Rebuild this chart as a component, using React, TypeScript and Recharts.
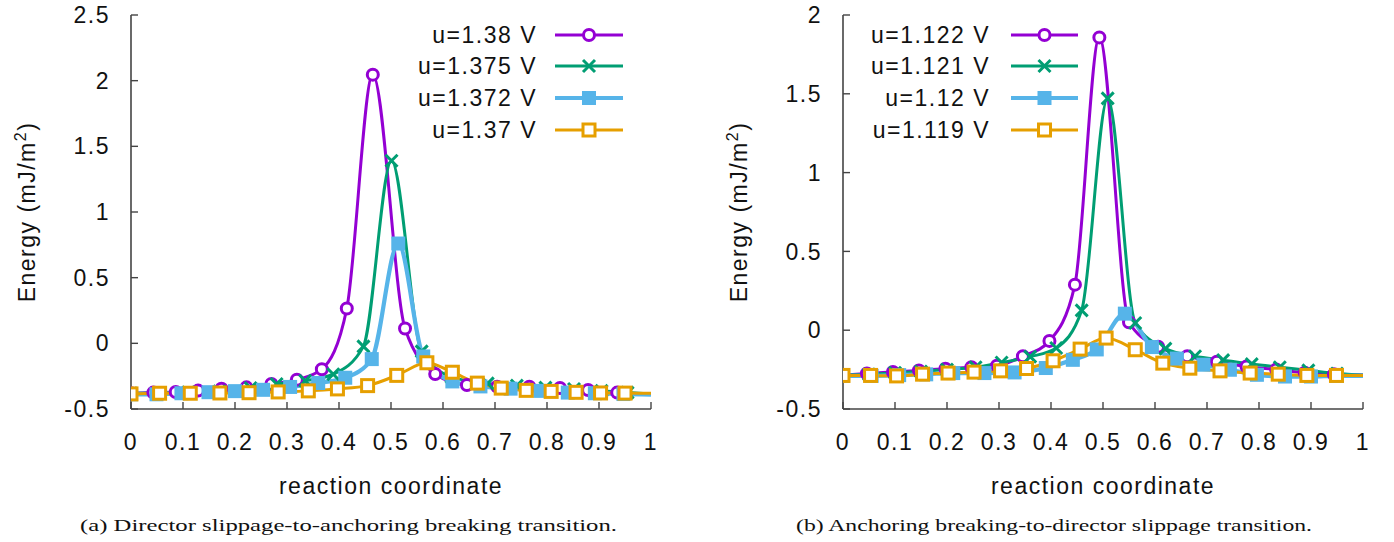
import React from "react";
import { LineChart, Line, XAxis, YAxis } from "recharts";

// ---- data ----
const xTicks = [0, 0.1, 0.2, 0.3, 0.4, 0.5, 0.6, 0.7, 0.8, 0.9, 1];
const leftYTicks = [-0.5, 0, 0.5, 1, 1.5, 2, 2.5];
const rightYTicks = [-0.5, 0, 0.5, 1, 1.5, 2];

// (a) director slippage -> anchoring breaking
const a138X = [0, 0.043, 0.086, 0.129, 0.174, 0.222, 0.27, 0.319, 0.367, 0.415, 0.465, 0.527, 0.585, 0.646, 0.704, 0.766, 0.825, 0.879, 0.935, 1.0];
const a138Y = [-0.38, -0.375, -0.37, -0.36, -0.345, -0.335, -0.31, -0.277, -0.197, 0.265, 2.046, 0.113, -0.233, -0.318, -0.33, -0.33, -0.34, -0.355, -0.375, -0.39];
const a1375X = [0, 0.055, 0.11, 0.17, 0.23, 0.28, 0.335, 0.389, 0.447, 0.501, 0.559, 0.616, 0.686, 0.742, 0.797, 0.852, 0.905, 0.955, 1.0];
const a1375Y = [-0.38, -0.378, -0.372, -0.365, -0.34, -0.31, -0.285, -0.235, -0.023, 1.39, -0.061, -0.255, -0.305, -0.322, -0.337, -0.348, -0.362, -0.375, -0.385];
const a1372X = [0, 0.049, 0.097, 0.149, 0.2, 0.254, 0.306, 0.36, 0.412, 0.463, 0.514, 0.562, 0.618, 0.672, 0.73, 0.787, 0.84, 0.892, 0.947, 1.0];
const a1372Y = [-0.388, -0.388, -0.38, -0.372, -0.364, -0.354, -0.332, -0.302, -0.262, -0.12, 0.76, -0.1, -0.29, -0.328, -0.345, -0.362, -0.375, -0.38, -0.386, -0.39];
const a137X = [0, 0.055, 0.114, 0.171, 0.227, 0.283, 0.341, 0.397, 0.455, 0.511, 0.569, 0.618, 0.666, 0.712, 0.76, 0.808, 0.856, 0.903, 0.95, 1.0];
const a137Y = [-0.385, -0.38, -0.38, -0.378, -0.376, -0.37, -0.362, -0.347, -0.322, -0.244, -0.148, -0.22, -0.303, -0.341, -0.358, -0.366, -0.373, -0.378, -0.379, -0.38];

// (b) anchoring breaking -> director slippage
const b1122X = [0, 0.046, 0.096, 0.146, 0.197, 0.247, 0.296, 0.346, 0.397, 0.446, 0.493, 0.55, 0.606, 0.662, 0.719, 0.776, 0.833, 0.888, 0.944, 1.0];
const b1122Y = [-0.285, -0.275, -0.265, -0.255, -0.245, -0.235, -0.225, -0.165, -0.068, 0.289, 1.858, 0.05, -0.105, -0.165, -0.2, -0.23, -0.25, -0.27, -0.28, -0.285];
const b1121X = [0, 0.05, 0.1, 0.15, 0.2, 0.255, 0.305, 0.36, 0.41, 0.459, 0.509, 0.562, 0.62, 0.677, 0.731, 0.786, 0.84, 0.895, 0.95, 1.0];
const b1121Y = [-0.285, -0.28, -0.27, -0.262, -0.25, -0.235, -0.205, -0.168, -0.113, 0.126, 1.471, 0.046, -0.117, -0.165, -0.19, -0.215, -0.235, -0.255, -0.275, -0.285];
const b112X = [0, 0.055, 0.108, 0.16, 0.212, 0.272, 0.33, 0.39, 0.442, 0.488, 0.542, 0.594, 0.642, 0.693, 0.744, 0.796, 0.85, 0.9, 0.95, 1.0];
const b112Y = [-0.29, -0.29, -0.285, -0.28, -0.272, -0.272, -0.268, -0.24, -0.188, -0.122, 0.105, -0.107, -0.18, -0.219, -0.251, -0.283, -0.294, -0.294, -0.29, -0.29];
const b1119X = [0, 0.053, 0.103, 0.153, 0.202, 0.252, 0.303, 0.353, 0.404, 0.456, 0.506, 0.562, 0.615, 0.667, 0.725, 0.783, 0.837, 0.892, 0.949, 1.0];
const b1119Y = [-0.287, -0.287, -0.29, -0.279, -0.272, -0.266, -0.258, -0.243, -0.194, -0.12, -0.05, -0.124, -0.209, -0.241, -0.258, -0.272, -0.279, -0.287, -0.287, -0.287];

const leftLabels = ["u=1.38 V", "u=1.375 V", "u=1.372 V", "u=1.37 V"];
const rightLabels = ["u=1.122 V", "u=1.121 V", "u=1.12 V", "u=1.119 V"];

// ---- style ----
const COLORS = ["#9400d3", "#009e73", "#56b4e9", "#e69f00"];
const KINDS = ["circle", "cross", "fsquare", "osquare"];
const WIDTHS = [3, 3, 4.2, 3];
const FONT = "'Liberation Sans', Arial, sans-serif";
const FS = 23;
const LS = 1.5;
const TXT = "#111";
const FRAME = "#444";

const W = 680;
const H = 542;
const CH = 470;
const P = { left: 131, right: 651, top: 15, bottom: 409 };
const TICK_LEN = 7;

const pts = (xs: number[], ys: number[]) => xs.map((x, i) => ({ x, y: ys[i] }));

function Marker({ kind, color, cx, cy }: { kind: string; color: string; cx: number; cy: number }) {
  if (kind === "circle")
    return <circle cx={cx} cy={cy} r={5.5} fill="#fff" stroke={color} strokeWidth={3} />;
  if (kind === "cross")
    return (
      <path d={`M${cx - 6},${cy - 6}L${cx + 6},${cy + 6}M${cx - 6},${cy + 6}L${cx + 6},${cy - 6}`}
        stroke={color} strokeWidth={3} fill="none" />
    );
  if (kind === "fsquare")
    return <rect x={cx - 7} y={cy - 7} width={14} height={14} fill={color} />;
  return <rect x={cx - 6} y={cy - 6} width={12} height={12} fill="#fff" stroke={color} strokeWidth={3} />;
}

const dotFor = (kind: string, color: string, last: number) => (props: any) => {
  const { cx, cy, index } = props;
  if (index === last || cx == null || cy == null) return <g key={`d${index}`} />;
  return <g key={`d${index}`}><Marker kind={kind} color={color} cx={cx} cy={cy} /></g>;
};

const fmt = (v: number) => String(v);

const BottomTick = (props: any) => {
  const { x, y, payload } = props;
  return (
    <g>
      <line x1={x} x2={x} y1={P.bottom} y2={P.bottom - TICK_LEN} stroke={FRAME} strokeWidth={1.4} />
      <text x={x} y={y} dy="0.71em" textAnchor="middle" fill={TXT} fontSize={FS} fontFamily={FONT} letterSpacing={LS}>
        {fmt(payload.value)}
      </text>
    </g>
  );
};
const TopTick = (props: any) => {
  const { x } = props;
  return <line x1={x} x2={x} y1={P.top} y2={P.top + TICK_LEN} stroke={FRAME} strokeWidth={1.4} />;
};
const LeftTick = (props: any) => {
  const { x, y, payload } = props;
  return (
    <g>
      <line x1={P.left} x2={P.left + TICK_LEN} y1={y} y2={y} stroke={FRAME} strokeWidth={1.4} />
      <text x={x} y={y} dy="0.355em" textAnchor="end" fill={TXT} fontSize={FS} fontFamily={FONT} letterSpacing={LS}>
        {fmt(payload.value)}
      </text>
    </g>
  );
};
const RightTick = (props: any) => {
  const { y } = props;
  return <line x1={P.right} x2={P.right - TICK_LEN} y1={y} y2={y} stroke={FRAME} strokeWidth={1.4} />;
};

interface Series { label: string; data: { x: number; y: number }[] }

function Panel({ left, yDomain, yTicks, series, legendTextX, legendLineX, caption, captionX, captionLen }: {
  left: number; yDomain: [number, number]; yTicks: number[]; series: Series[];
  legendTextX: number; legendLineX: [number, number]; caption: string; captionX: number; captionLen: number;
}) {
  const rows = [35, 66, 98, 130];
  return (
    <div style={{ position: "absolute", left, top: 0, width: W, height: H }}>
      <LineChart width={W} height={CH} margin={{ top: P.top, right: W - P.right, bottom: 21, left: 61 }}>
        <XAxis dataKey="x" type="number" domain={[0, 1]} ticks={xTicks} allowDataOverflow
          height={40} tickSize={0} tickMargin={25} tick={<BottomTick />}
          axisLine={{ stroke: FRAME, strokeWidth: 1.6 }} tickLine={false} />
        <XAxis xAxisId="top" orientation="top" dataKey="x" type="number" domain={[0, 1]} ticks={xTicks} allowDataOverflow
          height={0} tickSize={0} tickMargin={0} tick={<TopTick />}
          axisLine={{ stroke: FRAME, strokeWidth: 1.6 }} tickLine={false} />
        <YAxis type="number" domain={yDomain} ticks={yTicks} allowDataOverflow width={70}
          tickSize={0} tickMargin={21} tick={<LeftTick />}
          axisLine={{ stroke: FRAME, strokeWidth: 1.6 }} tickLine={false} />
        <YAxis yAxisId="right" orientation="right" type="number" domain={yDomain} ticks={yTicks} allowDataOverflow width={0}
          tickSize={0} tickMargin={0} tick={<RightTick />}
          axisLine={{ stroke: FRAME, strokeWidth: 1.6 }} tickLine={false} />
        {series.map((s, i) => (
          <Line key={s.label} data={s.data} dataKey="y" type="monotone" stroke={COLORS[i]} strokeWidth={WIDTHS[i]}
            dot={dotFor(KINDS[i], COLORS[i], s.data.length - 1)} activeDot={false} isAnimationActive={false} />
        ))}
      </LineChart>
      <svg width={W} height={H} style={{ position: "absolute", left: 0, top: 0, pointerEvents: "none" }}>
        <text transform={`translate(35, ${(P.top + P.bottom) / 2}) rotate(-90)`} textAnchor="middle"
          fill={TXT} fontSize={FS} fontFamily={FONT} letterSpacing={LS}>
          Energy (mJ/m<tspan dy={-9} fontSize={16}>2</tspan><tspan dy={9}>)</tspan>
        </text>
        <text x={(P.left + P.right) / 2} y={494} textAnchor="middle" fill={TXT} fontSize={FS} fontFamily={FONT} letterSpacing={LS}>
          reaction coordinate
        </text>
        {series.map((s, i) => (
          <g key={s.label}>
            <text x={legendTextX} y={rows[i]} dy="0.355em" textAnchor="end" fill={TXT} fontSize={FS} fontFamily={FONT} letterSpacing={LS}>
              {s.label}
            </text>
            <line x1={legendLineX[0]} x2={legendLineX[1]} y1={rows[i]} y2={rows[i]} stroke={COLORS[i]} strokeWidth={WIDTHS[i]} />
            <Marker kind={KINDS[i]} color={COLORS[i]} cx={(legendLineX[0] + legendLineX[1]) / 2} cy={rows[i]} />
          </g>
        ))}
        <text x={captionX} y={531} fill={TXT} fontSize={17} fontFamily="'Liberation Serif', 'DejaVu Serif', serif"
          textLength={captionLen} lengthAdjust="spacingAndGlyphs">
          {caption}
        </text>
      </svg>
    </div>
  );
}

export default function App() {
  const leftSeries: Series[] = [
    { label: leftLabels[0], data: pts(a138X, a138Y) },
    { label: leftLabels[1], data: pts(a1375X, a1375Y) },
    { label: leftLabels[2], data: pts(a1372X, a1372Y) },
    { label: leftLabels[3], data: pts(a137X, a137Y) },
  ];
  const rightSeries: Series[] = [
    { label: rightLabels[0], data: pts(b1122X, b1122Y) },
    { label: rightLabels[1], data: pts(b1121X, b1121Y) },
    { label: rightLabels[2], data: pts(b112X, b112Y) },
    { label: rightLabels[3], data: pts(b1119X, b1119Y) },
  ];
  return (
    <div style={{ position: "absolute", left: 0, top: 0, width: 1394, height: 542, background: "#fff", overflow: "hidden" }}>
      <Panel left={0} yDomain={[-0.5, 2.5]} yTicks={leftYTicks} series={leftSeries}
        legendTextX={537} legendLineX={[555, 623]}
        caption="(a) Director slippage-to-anchoring breaking transition." captionX={80} captionLen={537} />
      <Panel left={712} yDomain={[-0.5, 2]} yTicks={rightYTicks} series={rightSeries}
        legendTextX={278} legendLineX={[299, 366]}
        caption="(b) Anchoring breaking-to-director slippage transition." captionX={84} captionLen={516} />
    </div>
  );
}
